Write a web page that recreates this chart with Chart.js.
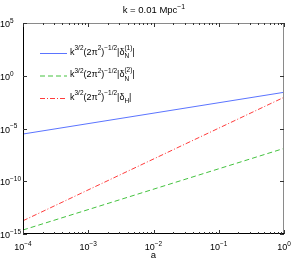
<!DOCTYPE html>
<html><head><meta charset="utf-8">
<script src="https://cdn.jsdelivr.net/npm/chart.js@4"></script>
<style>html,body{margin:0;background:#fff}#c{display:block}</style>
</head><body>
<canvas id="c" width="294" height="264"></canvas>
<script>
// values (log-log straight lines)
const aVals = [1e-4, 1];
const dN1 = [3.0e-6, 2.7e-2];
const dN2 = [2.4e-15, 1.3e-7];
const dH = [1.8e-14, 9.1e-3];

const xTicks = [1e-4, 1e-3, 1e-2, 1e-1, 1];
const xTickExp = ['\u22124', '\u22123', '\u22122', '\u22121', '0'];
const yTicks = [1e5, 1, 1e-5, 1e-10, 1e-15];
const yTickExp = ['5', '0', '\u22125', '\u221210', '\u221215'];

const titleText = ['k = 0.01 Mpc', '\u22121'];
const xLabel = 'a';

// legend labels as [text, kind] pieces
const legendPieces = [
  [['k', 'n'], ['3/2', 'sup'], ['(2\u03c0', 'n'], ['2', 'sup'], [')', 'n'], ['\u22121/2', 'sup'], ['|\u03b4', 'n'], [['N', '(1)'], 'subsup'], ['|', 'n']],
  [['k', 'n'], ['3/2', 'sup'], ['(2\u03c0', 'n'], ['2', 'sup'], [')', 'n'], ['\u22121/2', 'sup'], ['|\u03b4', 'n'], [['N', '(2)'], 'subsup'], ['|', 'n']],
  [['k', 'n'], ['3/2', 'sup'], ['(2\u03c0', 'n'], ['2', 'sup'], [')', 'n'], ['\u22121/2', 'sup'], ['|\u03b4', 'n'], ['H', 'sub'], ['|', 'n']]
];
const colors = ['#5b74ff', '#44c23f', '#ff3b3b'];
const dashes = [[], [5, 3], [5, 2, 1, 2]];

const FONT = '"Liberation Sans", Arial, sans-serif';

function drawRich(ctx, x, y, pieces, size) {
  const small = size * 0.72;
  ctx.textBaseline = 'alphabetic';
  ctx.textAlign = 'left';
  for (const [t, kind] of pieces) {
    if (kind === 'n') {
      ctx.font = size + 'px ' + FONT;
      ctx.fillText(t, x, y);
      x += ctx.measureText(t).width;
    } else if (kind === 'sup') {
      ctx.font = small + 'px ' + FONT;
      ctx.fillText(t, x, y - size * 0.45);
      x += ctx.measureText(t).width;
    } else if (kind === 'sub') {
      ctx.font = small + 'px ' + FONT;
      ctx.fillText(t, x, y + size * 0.38);
      x += ctx.measureText(t).width;
    } else if (kind === 'subsup') {
      ctx.font = small + 'px ' + FONT;
      ctx.fillText(t[0], x, y + size * 0.42);
      ctx.fillText(t[1], x, y - size * 0.55);
      x += Math.max(ctx.measureText(t[0]).width, ctx.measureText(t[1]).width);
    }
  }
  return x;
}

const decor = {
  id: 'decor',
  afterDraw(chart) {
    const ctx = chart.ctx;
    const a = chart.chartArea;
    const xs = chart.scales.x, ys = chart.scales.y;
    ctx.save();
    // box
    ctx.lineWidth = 1;
    ctx.strokeStyle = '#8a8a8a';
    ctx.beginPath();
    ctx.moveTo(a.left, a.top + 0.5); ctx.lineTo(a.right - 0.5, a.top + 0.5); ctx.lineTo(a.right - 0.5, a.bottom);
    ctx.stroke();
    ctx.strokeStyle = '#000';
    ctx.beginPath();
    ctx.moveTo(a.left + 0.5, a.top); ctx.lineTo(a.left + 0.5, a.bottom - 0.5); ctx.lineTo(a.right, a.bottom - 0.5);
    ctx.stroke();

    // x ticks (major + minor), bottom and top
    ctx.strokeStyle = '#333';
    ctx.beginPath();
    for (let e = -4; e <= 0; e++) {
      for (let m = 1; m <= 9; m++) {
        const v = m * Math.pow(10, e);
        if (v > 1.0000001) continue;
        const px = Math.round(xs.getPixelForValue(v)) + 0.5;
        const len = m === 1 ? 4 : 2;
        ctx.moveTo(px, a.bottom); ctx.lineTo(px, a.bottom - len);
        ctx.moveTo(px, a.top); ctx.lineTo(px, a.top + len);
      }
    }
    for (const v of yTicks) {
      const py = Math.round(ys.getPixelForValue(v)) + 0.5;
      ctx.moveTo(a.left, py); ctx.lineTo(a.left + 4, py);
      ctx.moveTo(a.right, py); ctx.lineTo(a.right - 4, py);
    }
    ctx.stroke();

    ctx.fillStyle = '#000';
    // x tick labels
    xTicks.forEach((v, i) => {
      const px = xs.getPixelForValue(v);
      ctx.font = '9px ' + FONT;
      const w1 = ctx.measureText('10').width;
      ctx.font = '6.5px ' + FONT;
      const w2 = ctx.measureText(xTickExp[i]).width;
      const x0 = px - (w1 + w2) / 2;
      drawRich(ctx, x0, 250, [['10', 'n'], [xTickExp[i], 'sup']], 9);
    });
    // y tick labels
    yTicks.forEach((v, i) => {
      const py = ys.getPixelForValue(v);
      drawRich(ctx, 0, py + 4, [['10', 'n'], [yTickExp[i], 'sup']], 9);
    });

    // title and x label
    ctx.font = '9.5px ' + FONT;
    const tw = ctx.measureText(titleText[0]).width;
    drawRich(ctx, 153 - (tw + 6) / 2, 13, [[titleText[0], 'n'], [titleText[1], 'sup']], 9.5);
    ctx.font = '9.5px ' + FONT;
    ctx.textAlign = 'center';
    ctx.fillText(xLabel, (a.left + a.right) / 2, 258);

    // legend
    chart.data.datasets.forEach((ds, i) => {
      const ly = 53 + i * 22.5;
      ctx.strokeStyle = ds.borderColor;
      ctx.setLineDash(ds.borderDash || []);
      ctx.beginPath();
      ctx.moveTo(40, ly + 0.5); ctx.lineTo(67, ly + 0.5);
      ctx.stroke();
      ctx.setLineDash([]);
      ctx.fillStyle = '#000';
      drawRich(ctx, 70, ly + 1.5, legendPieces[i], 9);
    });
    ctx.restore();
  }
};

const mk = (vals) => aVals.map((x, i) => ({ x: x, y: vals[i] }));

new Chart(document.getElementById('c'), {
  type: 'line',
  data: {
    datasets: [
      { label: 'dN1', data: mk(dN1), borderColor: colors[0], borderDash: dashes[0] },
      { label: 'dN2', data: mk(dN2), borderColor: colors[1], borderDash: dashes[1] },
      { label: 'dH', data: mk(dH), borderColor: colors[2], borderDash: dashes[2] }
    ].map(d => Object.assign(d, { borderWidth: 1, pointRadius: 0, fill: false, tension: 0 }))
  },
  options: {
    responsive: false,
    animation: false,
    layout: { padding: { top: 23, right: 10, left: 0, bottom: 0 } },
    plugins: { legend: { display: false }, tooltip: { enabled: false }, title: { display: false } },
    scales: {
      x: {
        type: 'logarithmic', min: 1e-4, max: 1,
        grid: { display: false }, border: { display: false },
        ticks: { display: false },
        afterBuildTicks: s => { s.ticks = xTicks.map(v => ({ value: v })); },
        afterFit: s => { s.height = 30; }
      },
      y: {
        type: 'logarithmic', min: 1e-15, max: 1e5,
        grid: { display: false }, border: { display: false },
        ticks: { display: false },
        afterBuildTicks: s => { s.ticks = yTicks.map(v => ({ value: v })); },
        afterFit: s => { s.width = 23; }
      }
    }
  },
  plugins: [decor]
});
</script>
</body></html>
